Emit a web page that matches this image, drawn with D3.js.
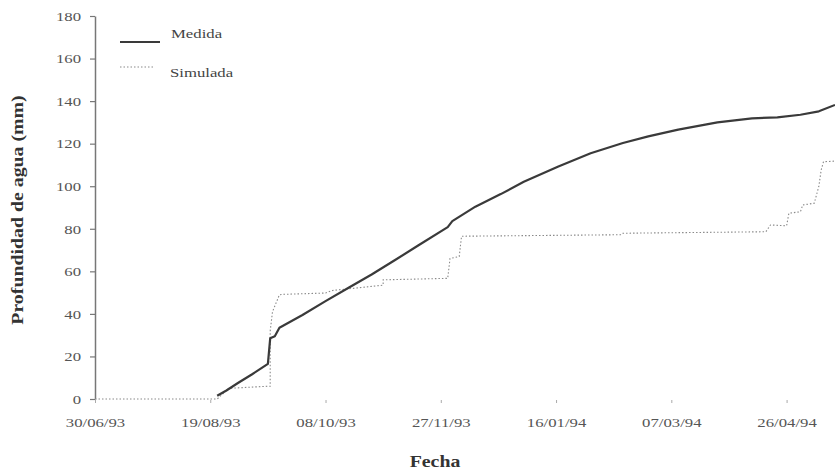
<!DOCTYPE html>
<html>
<head>
<meta charset="utf-8">
<script src="https://d3js.org/d3.v7.min.js"></script>
<style>
  html, body { margin: 0; padding: 0; background: #fff; }
  svg { display: block; }
</style>
</head>
<body>
<svg id="chart" width="835" height="471" font-family="'Liberation Serif', 'DejaVu Serif', serif"></svg>
<script>
// Measured water depth (mm) by date
const medidaDates = [
  "1993-08-22","1993-08-26","1993-08-31","1993-09-06","1993-09-13","1993-09-14",
  "1993-09-16","1993-09-18","1993-09-28","1993-10-08","1993-10-18","1993-10-28",
  "1993-11-07","1993-11-17","1993-11-30","1993-12-02","1993-12-12","1993-12-23",
  "1994-01-02","1994-01-17","1994-01-31","1994-02-14","1994-02-25","1994-03-10",
  "1994-03-27","1994-04-11","1994-04-22","1994-05-02","1994-05-10","1994-05-17"
];
const medidaValues = [
  1.5, 4, 7.5, 11.5, 16.5, 28.5,
  29.5, 33.5, 39.5, 46, 52.3, 58.5,
  65.2, 72, 80.8, 83.6, 90.4, 96.3,
  102.1, 109.3, 115.5, 120.3, 123.4, 126.6,
  130, 131.9, 132.4, 133.6, 135.2, 138.2
];

// Simulated water depth (mm) by date
const simuladaDates = [
  "1993-06-30","1993-08-22","1993-08-25","1993-08-27","1993-09-13","1993-09-14",
  "1993-09-14","1993-09-15","1993-09-18","1993-09-20","1993-10-08","1993-10-11",
  "1993-10-27","1993-11-02","1993-11-02","1993-11-30","1993-12-01","1993-12-05",
  "1993-12-06","1994-02-13","1994-02-14","1994-04-17","1994-04-19","1994-04-26",
  "1994-04-27","1994-05-02","1994-05-03","1994-05-08","1994-05-10","1994-05-11",
  "1994-05-12","1994-05-17"
];
const simuladaValues = [
  0, 0, 3, 5, 6, 6,
  32, 41, 49, 49.2, 49.8, 51,
  52.8, 53.5, 56, 56.7, 66, 67,
  76.5, 77.2, 77.9, 78.6, 81.8, 81.4,
  87.3, 88, 91.2, 92, 100, 107.6,
  111.5, 111.8
];

// Axis ticks
const xTickDates = ["1993-06-30","1993-08-19","1993-10-08","1993-11-27","1994-01-16","1994-03-07","1994-04-26"];
const yTickValues = [0, 20, 40, 60, 80, 100, 120, 140, 160, 180];

const seriesNames = ["Medida", "Simulada"];
const xTitle = "Fecha";
const yTitle = "Profundidad de agua (mm)";

const parse = d3.utcParse("%Y-%m-%d");
const fmt = d3.utcFormat("%d/%m/%y");

// the serif face is drawn a little wider than Liberation Serif
const STRETCH = 1.24;

const svg = d3.select("#chart");

const x = d3.scaleUtc()
  .domain([parse("1993-06-30"), parse("1994-05-17")])
  .range([95, 835]);
const y = d3.scaleLinear()
  .domain([0, 180])
  .range([399, 16]);

// Y axis
const yAxis = svg.append("g")
  .attr("transform", `translate(${x(parse("1993-06-30"))},0)`)
  .call(d3.axisLeft(y).tickValues(yTickValues).tickSize(5).tickPadding(8).tickSizeOuter(0))
  .attr("font-family", null);
yAxis.select(".domain").attr("stroke", "#777").attr("stroke-width", 1.5);
yAxis.selectAll(".tick line").attr("stroke", "#777").attr("stroke-width", 1.2);
yAxis.selectAll(".tick text")
  .attr("fill", "#555")
  .style("font-size", "13.5px")
  .attr("x", -14 / STRETCH)
  .attr("transform", `scale(${STRETCH},1)`);

// X axis: ticks and labels only
const xAxis = svg.append("g")
  .attr("transform", `translate(0,${y(0) + 1})`)
  .call(d3.axisBottom(x).tickValues(xTickDates.map(parse)).tickFormat(fmt)
    .tickSize(3).tickPadding(14).tickSizeOuter(0))
  .attr("font-family", null);
xAxis.select(".domain").remove();
xAxis.selectAll(".tick line").attr("stroke", "#aaa").attr("stroke-width", 1);
xAxis.selectAll(".tick text")
  .attr("fill", "#555")
  .style("font-size", "13.5px")
  .attr("transform", `scale(${STRETCH},1)`);

// Lines
const simulada = simuladaDates.map((d, i) => ({ date: parse(d), value: simuladaValues[i] }));
const medida = medidaDates.map((d, i) => ({ date: parse(d), value: medidaValues[i] }));
const line = d3.line().x(d => x(d.date)).y(d => y(d.value));

svg.append("path")
  .datum(simulada)
  .attr("fill", "none")
  .attr("stroke", "#8a8a8a")
  .attr("stroke-width", 1.1)
  .attr("stroke-dasharray", "1.5,2")
  .attr("d", line);

svg.append("path")
  .datum(medida)
  .attr("fill", "none")
  .attr("stroke", "#3a3a3a")
  .attr("stroke-width", 2.2)
  .attr("stroke-linejoin", "round")
  .attr("d", line);

// Legend
function stretchedText(g, px, py, str, size, weight, color) {
  return g.append("text")
    .attr("transform", `translate(${px},${py}) scale(${STRETCH},1)`)
    .attr("fill", color)
    .style("font-size", size)
    .style("font-weight", weight)
    .text(str);
}
const legend = svg.append("g");
legend.append("line")
  .attr("x1", 120).attr("x2", 160).attr("y1", 42).attr("y2", 42)
  .attr("stroke", "#3a3a3a").attr("stroke-width", 2.2);
stretchedText(legend, 171, 38, seriesNames[0], "13.5px", "normal", "#444");
legend.append("line")
  .attr("x1", 120).attr("x2", 154).attr("y1", 67).attr("y2", 67)
  .attr("stroke", "#8a8a8a").attr("stroke-width", 1.1).attr("stroke-dasharray", "1.5,2");
stretchedText(legend, 170, 77, seriesNames[1], "13.5px", "normal", "#444");

// Axis titles
stretchedText(svg, 435, 467, xTitle, "16px", "bold", "#333")
  .attr("text-anchor", "middle");

svg.append("text")
  .attr("transform", `translate(23,210) rotate(-90) scale(${STRETCH},1)`)
  .attr("text-anchor", "middle")
  .attr("fill", "#333")
  .style("font-size", "16px").style("font-weight", "bold")
  .text(yTitle);
</script>
</body>
</html>
